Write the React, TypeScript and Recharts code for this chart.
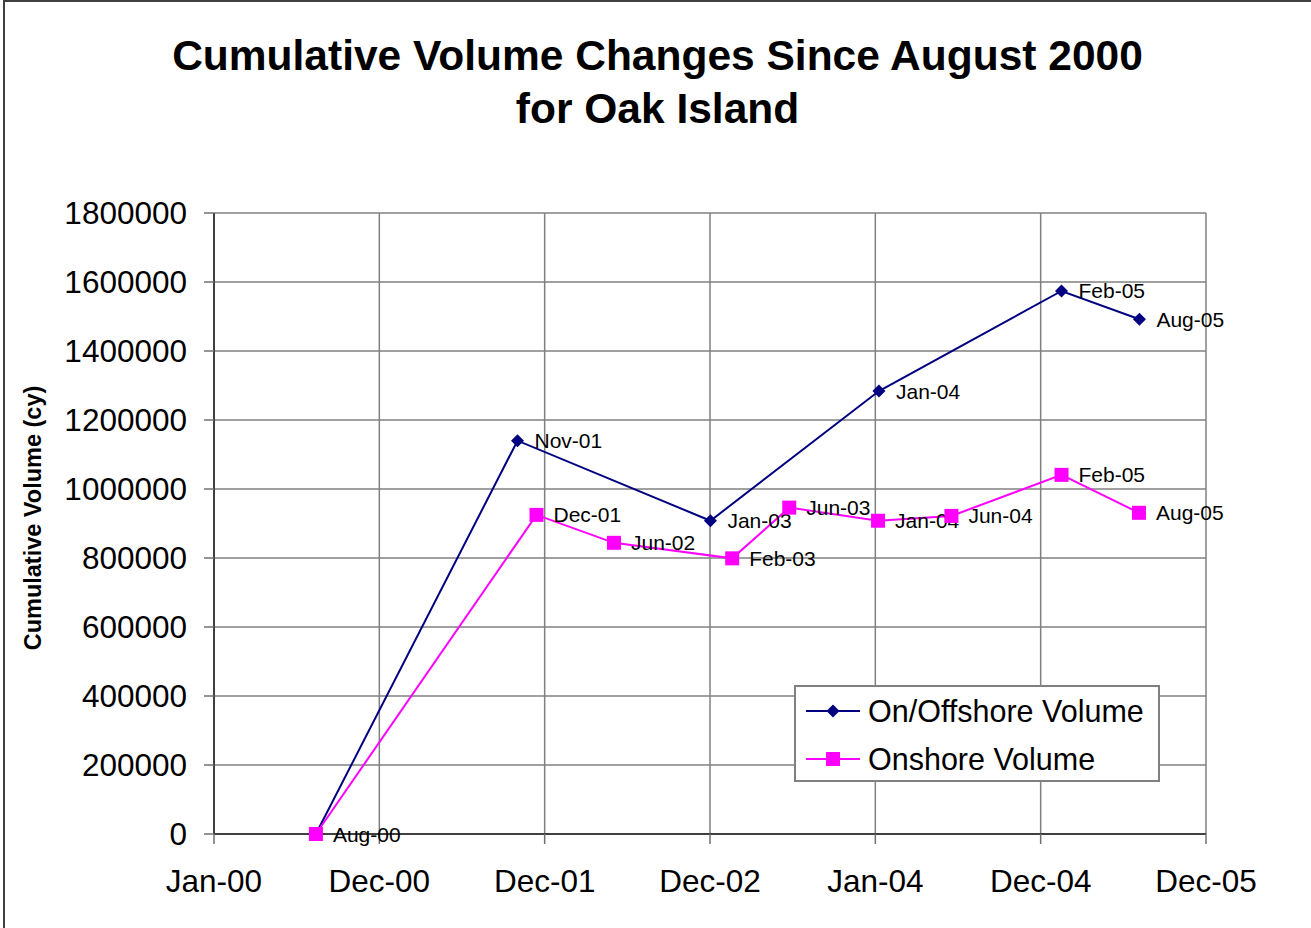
import React from "react";
import { LineChart, Line, XAxis, YAxis, CartesianGrid } from "recharts";

// survey dates and cumulative volumes (cy)
const onOffDates = ["2000-08-13", "2001-11-01", "2003-01-01", "2004-01-08", "2005-02-14", "2005-08-05"];
const onOffValues = [0, 1140000, 908000, 1284000, 1574000, 1492000];
const onOffLabels = ["", "Nov-01", "Jan-03", "Jan-04", "Feb-05", "Aug-05"];

const onshoreDates = [
  "2000-08-13", "2001-12-13", "2002-06-02", "2003-02-18", "2003-06-24",
  "2004-01-06", "2004-06-16", "2005-02-14", "2005-08-04",
];
const onshoreValues = [0, 925000, 844000, 799000, 946000, 908000, 922000, 1041000, 931000];
const onshoreLabels = ["Aug-00", "Dec-01", "Jun-02", "Feb-03", "Jun-03", "Jan-04", "Jun-04", "Feb-05", "Aug-05"];

// x axis is days since 1 Jan 2000
const xTicks = [0, 365, 730, 1095, 1460, 1825, 2190];
const xTickLabels = ["Jan-00", "Dec-00", "Dec-01", "Dec-02", "Jan-04", "Dec-04", "Dec-05"];
const yTicks = [0, 200000, 400000, 600000, 800000, 1000000, 1200000, 1400000, 1600000, 1800000];

const NAVY = "#000080";
const MAGENTA = "#FF00FF";
const FONT = "Arial, 'Liberation Sans', sans-serif";

const dayOf = (iso: string) => (Date.parse(iso) - Date.parse("2000-01-01")) / 86400000;

const onOffData = onOffDates.map((d, i) => ({ x: dayOf(d), y: onOffValues[i], label: onOffLabels[i] }));
const onshoreData = onshoreDates.map((d, i) => ({ x: dayOf(d), y: onshoreValues[i], label: onshoreLabels[i] }));

function Diamond({ cx, cy, r, fill }: any) {
  return <polygon points={`${cx},${cy - r} ${cx + r},${cy} ${cx},${cy + r} ${cx - r},${cy}`} fill={fill} />;
}

function Square({ cx, cy, r, fill }: any) {
  return <rect x={cx - r} y={cy - r} width={r * 2} height={r * 2} fill={fill} />;
}

const makeDot = (kind: "diamond" | "square") => (props: any) => {
  const { cx, cy, index, payload } = props;
  return (
    <g key={`dot-${kind}-${index}`}>
      {kind === "diamond" ? (
        <Diamond cx={cx} cy={cy} r={6.5} fill={NAVY} />
      ) : (
        <Square cx={cx} cy={cy} r={7} fill={MAGENTA} />
      )}
      {payload.label ? (
        <text x={cx + 17} y={cy + 7.5} fontSize={21} fill="#000" fontFamily={FONT}>
          {payload.label}
        </text>
      ) : null}
    </g>
  );
};

function LegendBox() {
  const items = [
    { name: "On/Offshore Volume", color: NAVY, kind: "diamond" },
    { name: "Onshore Volume", color: MAGENTA, kind: "square" },
  ];
  return (
    <div
      style={{
        position: "absolute",
        left: 794,
        top: 685,
        width: 366,
        height: 97,
        boxSizing: "border-box",
        border: "2px solid #808080",
        background: "#fff",
      }}
    >
      {items.map((it, i) => (
        <div
          key={it.name}
          style={{ position: "absolute", left: 10, top: 6 + i * 48, height: 36, display: "flex", alignItems: "center" }}
        >
          <svg width={56} height={20}>
            <line x1={0} y1={10} x2={54} y2={10} stroke={it.color} strokeWidth={2} />
            {it.kind === "diamond" ? (
              <Diamond cx={27} cy={10} r={6.5} fill={it.color} />
            ) : (
              <Square cx={27} cy={10} r={7} fill={it.color} />
            )}
          </svg>
          <span style={{ fontSize: 30.5, marginLeft: 6, color: "#000", whiteSpace: "nowrap" }}>{it.name}</span>
        </div>
      ))}
    </div>
  );
}

export default function App() {
  return (
    <div
      style={{
        position: "fixed",
        left: 0,
        top: 0,
        width: 1311,
        height: 928,
        overflow: "hidden",
        background: "#fff",
        fontFamily: FONT,
      }}
    >
      <div
        style={{
          position: "absolute",
          left: 3,
          top: 0,
          width: 1400,
          height: 1000,
          border: "2px solid #404040",
        }}
      />
      <div
        style={{
          position: "absolute",
          left: 4,
          top: 29,
          width: 1307,
          textAlign: "center",
          fontSize: 42.5,
          fontWeight: "bold",
          lineHeight: "53px",
          color: "#000",
        }}
      >
        Cumulative Volume Changes Since August 2000
        <br />
        for Oak Island
      </div>
      <div
        style={{
          position: "absolute",
          left: 33,
          top: 518,
          transform: "translate(-50%, -50%) rotate(-90deg)",
          fontSize: 23.5,
          fontWeight: "bold",
          whiteSpace: "nowrap",
          color: "#000",
        }}
      >
        Cumulative Volume (cy)
      </div>
      <div style={{ position: "absolute", left: 0, top: 0 }}>
        <LineChart width={1311} height={928} margin={{ top: 213, right: 105, bottom: 0, left: 0 }}>
          <CartesianGrid stroke="#808080" strokeWidth={1.5} />
          <XAxis
            type="number"
            dataKey="x"
            domain={[0, 2190]}
            ticks={xTicks}
            tickFormatter={(v: number) => xTickLabels[xTicks.indexOf(v)]}
            height={94}
            tickSize={10}
            tickMargin={26}
            axisLine={{ stroke: "#404040", strokeWidth: 2 }}
            tickLine={{ stroke: "#707070", strokeWidth: 1.5 }}
            tick={{ fontSize: 31.5, fill: "#000", fontFamily: FONT }}
          />
          <YAxis
            type="number"
            domain={[0, 1800000]}
            ticks={yTicks}
            width={214}
            tickSize={10}
            tickMargin={17}
            axisLine={{ stroke: "#404040", strokeWidth: 2 }}
            tickLine={{ stroke: "#707070", strokeWidth: 1.5 }}
            tick={{ fontSize: 31.5, fill: "#000", fontFamily: FONT }}
          />
          <Line
            data={onOffData}
            dataKey="y"
            type="linear"
            stroke={NAVY}
            strokeWidth={2}
            dot={makeDot("diamond")}
            activeDot={false}
            isAnimationActive={false}
          />
          <Line
            data={onshoreData}
            dataKey="y"
            type="linear"
            stroke={MAGENTA}
            strokeWidth={2}
            dot={makeDot("square")}
            activeDot={false}
            isAnimationActive={false}
          />
        </LineChart>
      </div>
      <LegendBox />
    </div>
  );
}
